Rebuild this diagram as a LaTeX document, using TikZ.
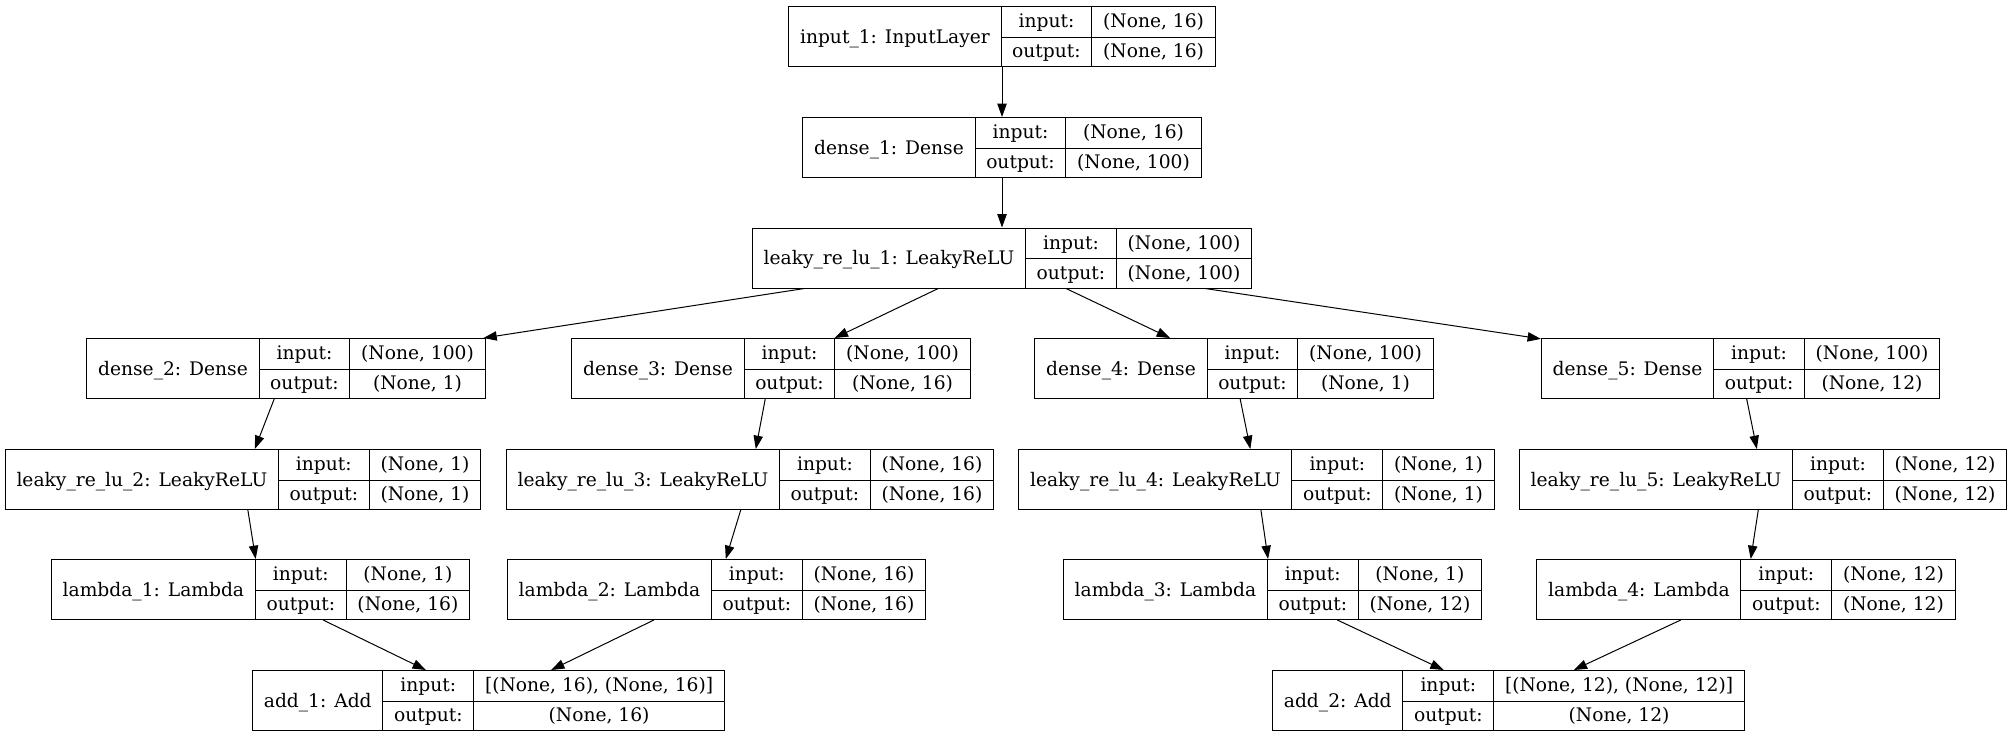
\documentclass[tikz,border=0pt]{standalone}
\usepackage{fontspec}
\setmainfont{DejaVu Serif}
\usepackage{tikz}
\usetikzlibrary{arrows.meta}
\setlength{\tabcolsep}{8.4bp}
\setlength{\arrayrulewidth}{0.75bp}
\tikzstyle{layer}=[draw,line width=0.75bp,inner sep=0pt,font=\fontsize{14bp}{22.5bp}\selectfont]
\tikzstyle{edge}=[line width=0.75bp,-{Triangle[length=10bp,width=7bp]}]
\newcommand{\layertab}[3]{\begin{tabular}{c|c|c}
\raisebox{-11.625bp}[0pt][0pt]{#1} & input: & #2\\ \cline{2-3}
 & output: & #3
\end{tabular}}

\begin{document}
\begin{tikzpicture}[x=0.75bp,y=-0.75bp]
\useasboundingbox (0,0) rectangle (2013,737);
\node [layer] (input1) at (1002,36.5) {\layertab{input\_1: InputLayer}{(None, 16)}{(None, 16)}};
\node [layer] (dense1) at (1002,147.5) {\layertab{dense\_1: Dense}{(None, 16)}{(None, 100)}};
\node [layer] (leaky1) at (1002,258) {\layertab{leaky\_re\_lu\_1: LeakyReLU}{(None, 100)}{(None, 100)}};
% four branches
\node [layer] (dense2) at (286,368.5) {\layertab{dense\_2: Dense}{(None, 100)}{(None, 1)}};
\node [layer] (dense3) at (771,368.5) {\layertab{dense\_3: Dense}{(None, 100)}{(None, 16)}};
\node [layer] (dense4) at (1234,368.5) {\layertab{dense\_4: Dense}{(None, 100)}{(None, 1)}};
\node [layer] (dense5) at (1740.5,368.5) {\layertab{dense\_5: Dense}{(None, 100)}{(None, 12)}};
\node [layer] (leaky2) at (243,479.5) {\layertab{leaky\_re\_lu\_2: LeakyReLU}{(None, 1)}{(None, 1)}};
\node [layer] (leaky3) at (750,479.5) {\layertab{leaky\_re\_lu\_3: LeakyReLU}{(None, 16)}{(None, 16)}};
\node [layer] (leaky4) at (1256.5,479.5) {\layertab{leaky\_re\_lu\_4: LeakyReLU}{(None, 1)}{(None, 1)}};
\node [layer] (leaky5) at (1763,479.5) {\layertab{leaky\_re\_lu\_5: LeakyReLU}{(None, 12)}{(None, 12)}};
\node [layer] (lambda1) at (260.5,589.5) {\layertab{lambda\_1: Lambda}{(None, 1)}{(None, 16)}};
\node [layer] (lambda2) at (716.5,589.5) {\layertab{lambda\_2: Lambda}{(None, 16)}{(None, 16)}};
\node [layer] (lambda3) at (1272.5,589.5) {\layertab{lambda\_3: Lambda}{(None, 1)}{(None, 12)}};
\node [layer] (lambda4) at (1746,589.5) {\layertab{lambda\_4: Lambda}{(None, 12)}{(None, 12)}};
% merges
\node [layer] (add1) at (488.5,700.5) {\layertab{add\_1: Add}{[(None, 16), (None, 16)]}{(None, 16)}};
\node [layer] (add2) at (1508.5,700.5) {\layertab{add\_2: Add}{[(None, 12), (None, 12)]}{(None, 12)}};
\foreach \a/\b in {input1/dense1,dense1/leaky1,leaky1/dense2,leaky1/dense3,leaky1/dense4,leaky1/dense5,
  dense2/leaky2,dense3/leaky3,dense4/leaky4,dense5/leaky5,
  leaky2/lambda1,leaky3/lambda2,leaky4/lambda3,leaky5/lambda4,
  lambda1/add1,lambda2/add1,lambda3/add2,lambda4/add2}
  \draw [edge] (\a) -- (\b);
\end{tikzpicture}
\end{document}
